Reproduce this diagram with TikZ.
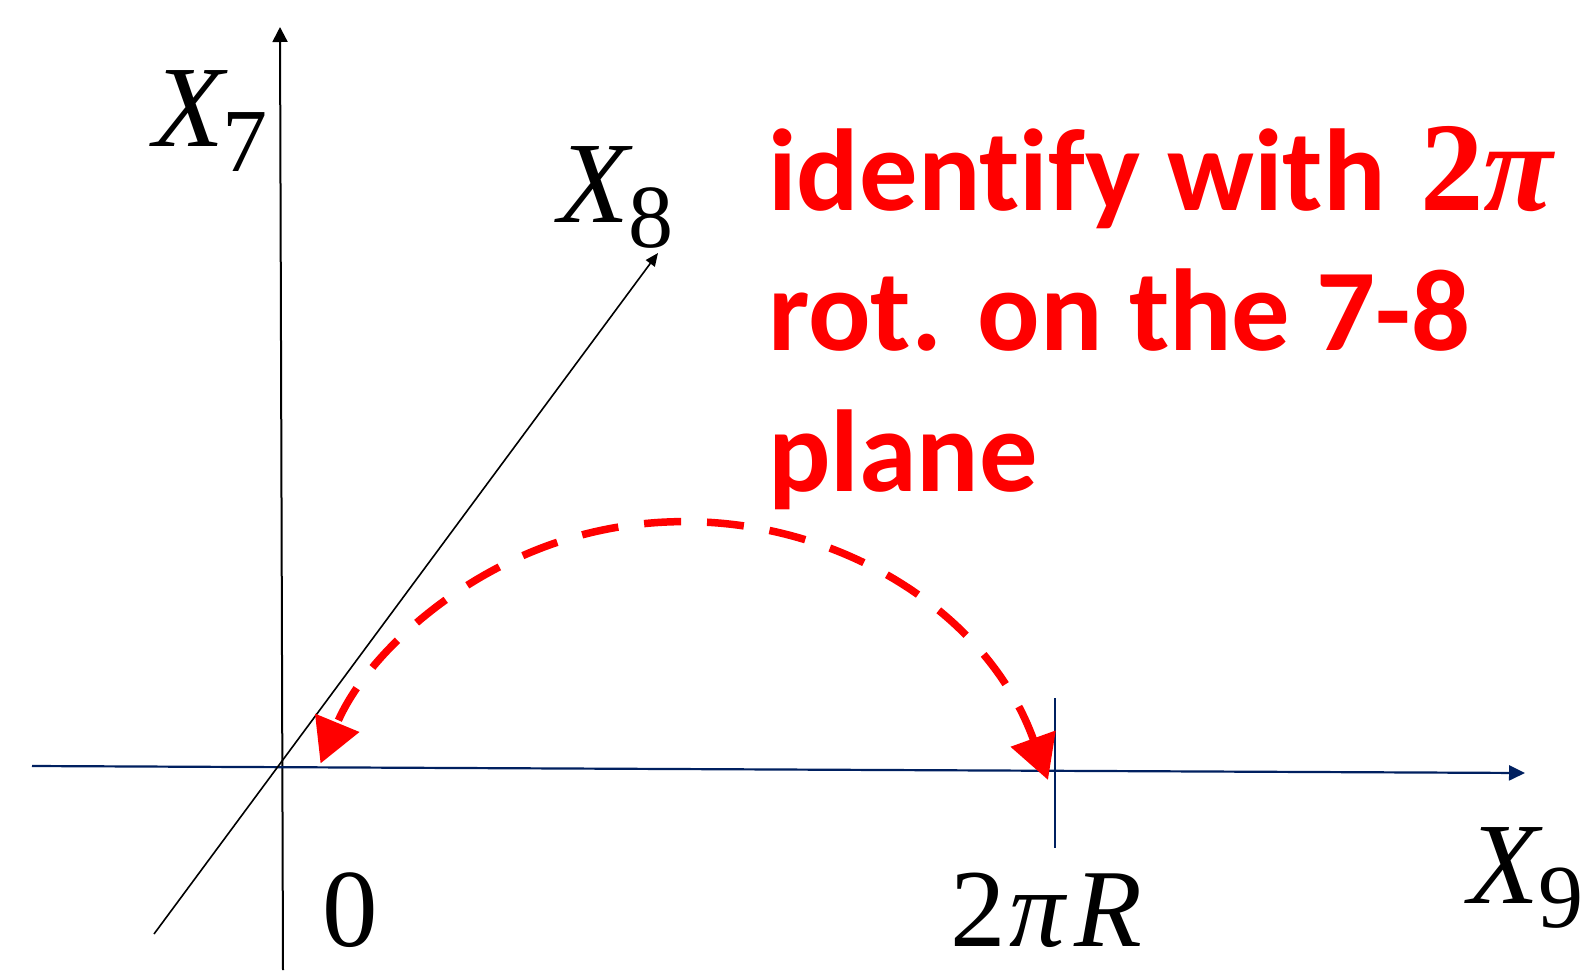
\documentclass[tikz,border=0pt]{standalone}
\usepackage{fontspec}
\setmainfont{Carlito}[Ligatures=NoCommon]
\newfontfamily\lser{Liberation Serif}
\usetikzlibrary{arrows.meta}
\definecolor{navy}{RGB}{0,32,96}
\definecolor{pred}{RGB}{255,0,0}
\begin{document}
\begin{tikzpicture}[x=1pt,y=-1pt,
  axisk/.style={draw=black, line width=2pt, -{Triangle[length=15pt,width=15pt]}},
  axisn/.style={draw=navy, line width=2.2pt, -{Triangle[length=16pt,width=15pt]}},
  tick/.style={draw=navy, line width=1.6pt},
  lbl/.style={inner sep=0pt, anchor=base west, font=\lser\fontsize{116}{130}\selectfont},
  num/.style={inner sep=0pt, anchor=base west, font=\lser\fontsize{111}{130}\selectfont},
  note/.style={inner sep=0pt, anchor=base west, text=pred, font=\bfseries\fontsize{116.5}{140}\selectfont},
  rot/.style={draw=pred, line width=7.5pt, dash pattern=on 37pt off 26pt,
    {Triangle[length=44pt,width=46pt]}-{Triangle[length=44pt,width=46pt]}},
]
\useasboundingbox (0,0) rectangle (1591,970);
% axes
\coordinate (x7s) at (283,970);
\coordinate (x7e) at (280,27);
\coordinate (x9s) at (32,766);
\coordinate (x9e) at (1525,773);
\coordinate (x8s) at (154,934);
\coordinate (x8e) at (658,253);
\coordinate (tkt) at (1055,698);
\coordinate (tkb) at (1055,848);
\draw[axisk] (x7s) -- (x7e);
\draw[axisn] (x9s) -- (x9e);
\draw[draw=black, line width=1.6pt, -{Triangle[length=13pt,width=11pt]}] (x8s) -- (x8e);
\draw[tick] (tkt) -- (tkb);
% red rotation arc
\coordinate (rotR) at (1048,780);
\draw[rot] (rotR) arc[start angle=-19.8, end angle=-157.6, radius=390];
% labels
\node[lbl] (lx7) at (153,146) {{\itshape X}\kern-2pt\raisebox{-25pt}{\fontsize{90}{90}\selectfont 7}};
\node[lbl] (lx8) at (558,222) {{\itshape X}\kern-1pt\raisebox{-25pt}{\fontsize{90}{90}\selectfont 8}};
\node[lbl] (lx9) at (1468,903) {{\itshape X}\kern-1pt\raisebox{-24pt}{\fontsize{90}{90}\selectfont 9}};
\node[num] (l0) at (322,946) {0};
\node[num] (l2piR) at (950,946) {2\kern4pt{\itshape π\kern9pt R}};
% note
\node[note] (n1) at (768,210) {identify with \kern8pt{\lser\bfseries\fontsize{127}{140}\selectfont 2\itshape π}};
\node[note] (n2) at (768,350) {rot. on the 7-8};
\node[note] (n3) at (768,491) {plane};
\end{tikzpicture}
\end{document}
